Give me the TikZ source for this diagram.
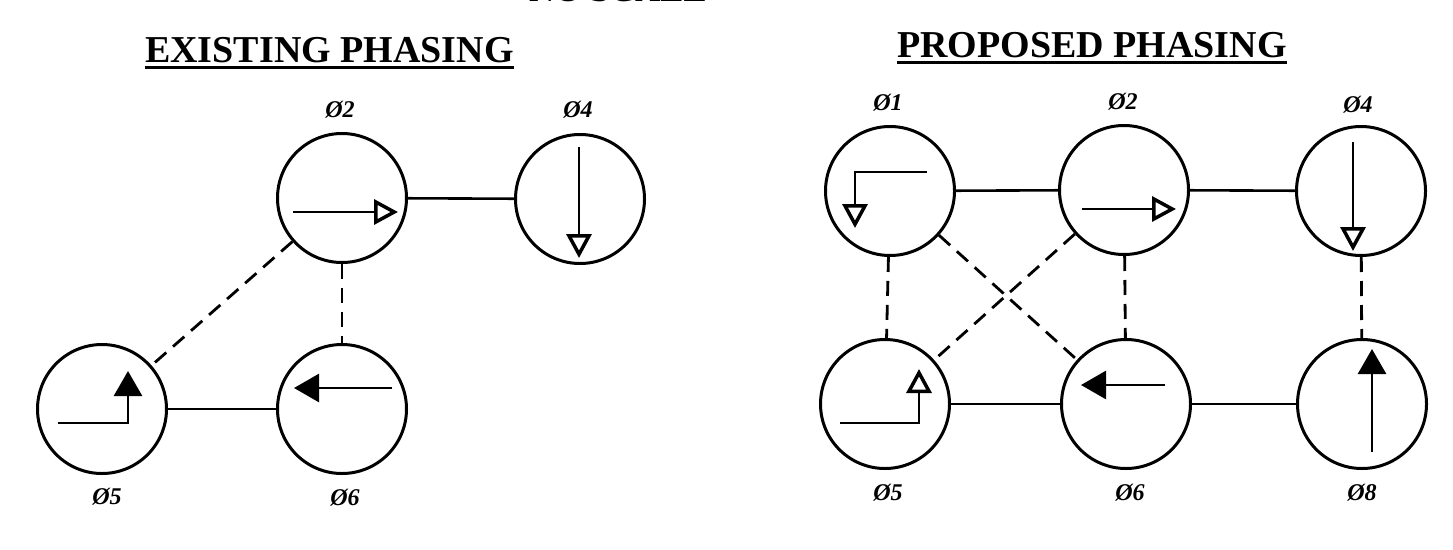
\documentclass[tikz,border=0pt]{standalone}
\usepackage{fontspec}
\setmainfont{Liberation Serif}
\usetikzlibrary{arrows.meta}
\begin{document}
\begin{tikzpicture}[x=1pt,y=-1pt,
  phase/.style={circle,draw=black,line width=3pt,minimum size=129pt,inner sep=0pt},
  lab/.style={font=\fontsize{24}{26}\selectfont\bfseries\itshape,inner sep=0pt},
  title/.style={font=\fontsize{38}{40}\selectfont\bfseries,inner sep=0pt,anchor=base west},
  uline/.style={line width=3pt},
  conn/.style={line width=2.6pt},
  dconn/.style={line width=2.8pt,dash pattern=on 15pt off 9pt},
  mv/.style={line width=2.8pt},
  openhead/.style={-{Triangle[open,length=24pt,width=25pt,line width=3.5pt]}},
  fullhead/.style={-{Triangle[length=25pt,width=28pt]}}
]
\useasboundingbox (0,0) rectangle (1453,549);
% top (cut) heading
\node[font=\fontsize{35}{37}\selectfont\bfseries,inner sep=0pt,anchor=base] (ns) at (618,1) {NO SCALE};
% titles
\node[title] (t1) at (145,62) {EXISTING PHASING};
\node[title] (t2) at (897,57) {PROPOSED PHASING};
\draw[uline] ([yshift=-5pt]t1.base west) -- ([yshift=-5pt]t1.base east);
\draw[uline] ([yshift=-5pt]t2.base west) -- ([yshift=-5pt]t2.base east);

% ---------- existing ----------
\node[phase] (p2) at (342,198) {};
\node[phase] (p4) at (580,199) {};
\node[phase] (p5) at (102,409) {};
\node[phase] (p6) at (342,409) {};
\node[lab] (lp2) at (340,110) {Ø2};
\node[lab] (lp4) at (578,110) {Ø4};
\node[lab] (lp5) at (107,497) {Ø5};
\node[lab] (lp6) at (345,498) {Ø6};
\draw[conn] (p2) -- (p4);
\draw[conn] (p5) -- (p6);
\draw[dconn] (p2) -- (p6);
\draw[dconn] (p2) -- (p5);
% movements
\draw[mv,openhead] (293,212) -- (398,212);
\draw[mv,openhead] (579,147) -- (579,258);
\draw[mv,fullhead] (58,423) -| (128,371);
\draw[mv,fullhead] (392,388) -- (294,388);

% ---------- proposed ----------
\node[phase] (q1) at (890,191) {};
\node[phase] (q2) at (1124,190) {};
\node[phase] (q4) at (1361,191) {};
\node[phase] (q5) at (885,404) {};
\node[phase] (q6) at (1126,404) {};
\node[phase] (q8) at (1362,404) {};
\node[lab] (lq1) at (888,103) {Ø1};
\node[lab] (lq2) at (1123,102) {Ø2};
\node[lab] (lq4) at (1358,105) {Ø4};
\node[lab] (lq5) at (888,493) {Ø5};
\node[lab] (lq6) at (1130,493) {Ø6};
\node[lab] (lq8) at (1362,493) {Ø8};
\draw[conn] (q1) -- (q2);
\draw[conn] (q2) -- (q4);
\draw[conn] (q5) -- (q6);
\draw[conn] (q6) -- (q8);
\draw[dconn] (q1) -- (q5);
\draw[dconn] (q2) -- (q6);
\draw[dconn] (q4) -- (q8);
\draw[dconn] (q1) -- (q6);
\draw[dconn] (q2) -- (q5);
% movements
\draw[mv,openhead] (927,172) -| (855,228);
\draw[mv,openhead] (1082,209) -- (1176,209);
\draw[mv,openhead] (1353,142) -- (1353,251);
\draw[mv,openhead] (840,423) -| (919,369);
\draw[mv,fullhead] (1165,385) -- (1081,385);
\draw[mv,fullhead] (1372,452) -- (1372,349);
\end{tikzpicture}
\end{document}
